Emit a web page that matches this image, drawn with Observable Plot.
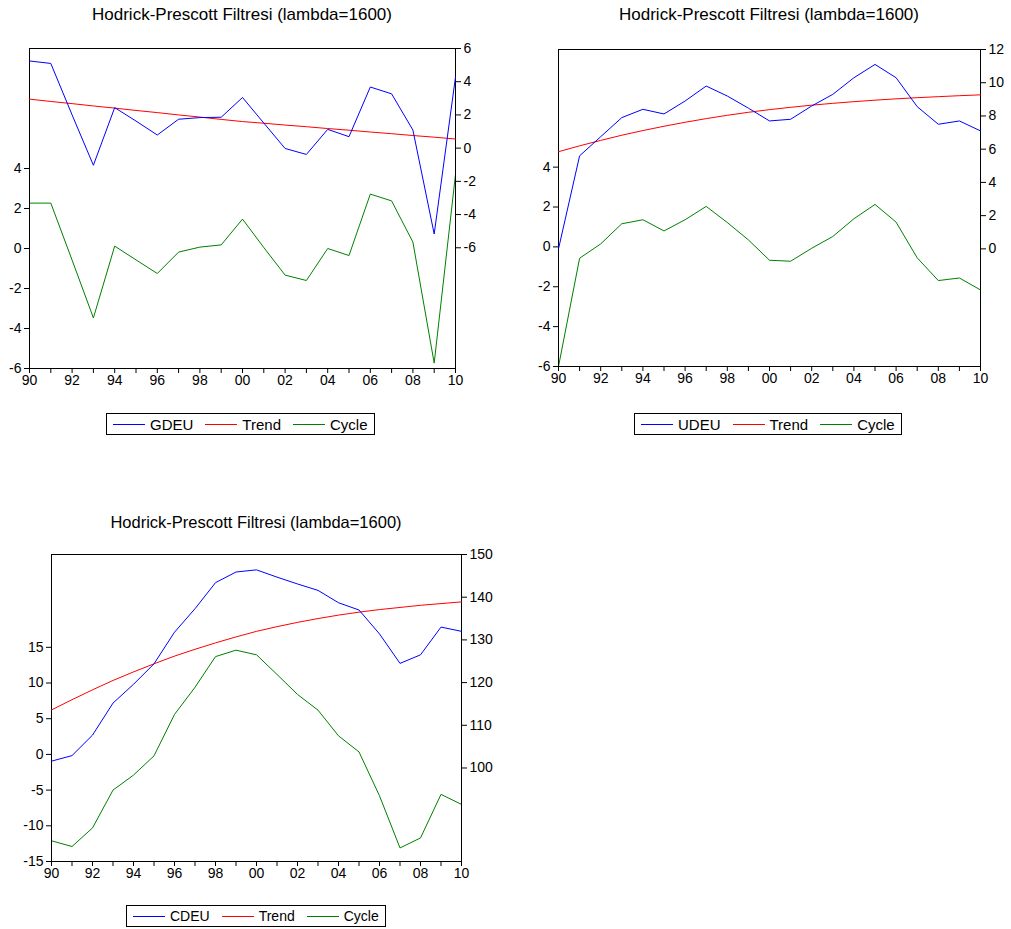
<!DOCTYPE html>
<html><head><meta charset="utf-8">
<script src="https://cdn.jsdelivr.net/npm/d3@7"></script>
<script src="https://cdn.jsdelivr.net/npm/@observablehq/plot@0.6"></script>
<style>
body{margin:0;background:#fff;font-family:"Liberation Sans",Arial,sans-serif;}
#root{position:relative;width:1011px;height:929px;overflow:hidden;}
.layer{position:absolute;}
.layer svg{background:transparent !important;}
.title{position:absolute;color:#000;white-space:nowrap;transform:translateX(-50%);line-height:20px;}
.legend{position:absolute;display:flex;align-items:center;border:1px solid #000;height:22px;padding:0 6px;box-sizing:border-box;color:#000;background:#fff;}
.legend svg.sw{margin-right:5px;display:block;}
.legend .lab{margin-right:12px;}
.legend .lab:last-child{margin-right:0;}
</style></head><body><div id="root"></div>
<script>
const years = [1990,1991,1992,1993,1994,1995,1996,1997,1998,1999,2000,2001,2002,2003,2004,2005,2006,2007,2008,2009,2010];
const seriesNames = ["Trend", "Cycle"];
const titleText = "Hodrick-Prescott Filtresi (lambda=1600)";

// Panel 1: GDEU
const gdeu      = [5.25,5.1,2.0,-1.03,2.44,1.63,0.79,1.74,1.84,1.86,3.05,1.51,-0.02,-0.38,1.13,0.69,3.68,3.27,1.09,-5.17,4.28];
const gdeuTrend = [2.95,2.81,2.68,2.54,2.41,2.27,2.14,2.00,1.87,1.73,1.60,1.50,1.39,1.29,1.18,1.08,0.97,0.87,0.76,0.66,0.55];
const gdeuCycle = [2.27,2.27,-0.58,-3.47,0.12,-0.57,-1.25,-0.18,0.07,0.18,1.47,0.05,-1.33,-1.6,0.0,-0.35,2.72,2.38,0.32,-5.73,3.7];
const gdeuLeftTicks  = [-6,-4,-2,0,2,4];
const gdeuRightTicks = [-6,-4,-2,0,2,4,6];

// Panel 2: UDEU
const udeu      = [0.0,5.6,6.75,7.9,8.4,8.12,8.9,9.8,9.2,8.47,7.7,7.8,8.6,9.3,10.3,11.1,10.3,8.56,7.5,7.7,7.1];
const udeuTrend = [5.85,6.2,6.53,6.84,7.12,7.38,7.62,7.84,8.04,8.22,8.38,8.52,8.65,8.76,8.86,8.95,9.03,9.10,9.16,9.22,9.27];
const udeuCycle = [-6.0,-0.57,0.15,1.16,1.36,0.8,1.36,2.03,1.22,0.35,-0.67,-0.72,-0.07,0.52,1.41,2.13,1.24,-0.55,-1.69,-1.56,-2.16];
const udeuLeftTicks  = [-6,-4,-2,0,2,4];
const udeuRightTicks = [0,2,4,6,8,10,12];

// Panel 3: CDEU
const cdeu      = [101.6,102.9,107.7,115.2,119.6,124.4,131.8,137.3,143.4,145.9,146.4,144.7,143.1,141.6,138.7,137.0,131.4,124.5,126.5,133.0,132.0];
const cdeuTrend = [113.6,116.0,118.3,120.5,122.5,124.4,126.2,127.8,129.3,130.7,132.0,133.1,134.1,135.0,135.8,136.5,137.1,137.6,138.1,138.5,138.9];
const cdeuCycle = [-12.1,-12.9,-10.3,-5.0,-2.9,-0.2,5.6,9.4,13.7,14.6,13.95,11.2,8.4,6.2,2.6,0.35,-5.8,-13.1,-11.7,-5.6,-7.0];
const cdeuLeftTicks  = [-15,-10,-5,0,5,10,15];
const cdeuRightTicks = [100,110,120,130,140,150];

const BLUE = "#0000ff", RED = "#ff0000", GREEN = "#008000";
const FONT = "'Liberation Sans', Arial, sans-serif";
const SVGNS = "http://www.w3.org/2000/svg";
const root = document.getElementById("root");

const panels = [
  {name:"GDEU", series:gdeu, trend:gdeuTrend, cycle:gdeuCycle, leftTicks:gdeuLeftTicks, rightTicks:gdeuRightTicks,
   left:0, top:30, width:490, height:372, mL:29, mR:35, mT:18, mB:34, yL:[-6,10], yR:[-13.27,6],
   titleX:242, titleY:5, titleSize:17, legX:106, legY:413, legSize:15},
  {name:"UDEU", series:udeu, trend:udeuTrend, cycle:udeuCycle, leftTicks:udeuLeftTicks, rightTicks:udeuRightTicks,
   left:520, top:30, width:491, height:372, mL:38, mR:31, mT:19, mB:36, yL:[-6,9.9], yR:[-7.08,12],
   titleX:769, titleY:5, titleSize:17, legX:634, legY:413, legSize:15},
  {name:"CDEU", series:cdeu, trend:cdeuTrend, cycle:cdeuCycle, leftTicks:cdeuLeftTicks, rightTicks:cdeuRightTicks,
   left:0, top:535, width:500, height:360, mL:51, mR:39, mT:19, mB:34, yL:[-15,28], yR:[78.1,150],
   titleX:256, titleY:512, titleSize:16.5, legX:126, legY:905, legSize:14}
];

const fmtYear = d => d % 2 === 0 ? String(d).slice(2) : "";

for (const p of panels) {
  const rows = years.map((y, i) => ({year: y, s: p.series[i], t: p.trend[i], c: p.cycle[i]}));
  const common = {
    width: p.width, height: p.height,
    marginLeft: p.mL, marginRight: p.mR, marginTop: p.mT, marginBottom: p.mB,
    style: {fontSize: "14px", fontFamily: FONT, background: "transparent", color: "#000", overflow: "visible"}
  };
  const base = Plot.plot({
    ...common,
    x: {domain: [1990, 2010], label: null},
    y: {domain: p.yL, label: null},
    marks: [
      Plot.axisX({ticks: years, tickFormat: fmtYear, tickSize: 5, tickPadding: 2, label: null}),
      Plot.axisY({anchor: "left", ticks: p.leftTicks, tickFormat: d => String(d), tickSize: 5, tickPadding: 3, label: null}),
      Plot.line(rows, {x: "year", y: "c", stroke: GREEN, strokeWidth: 1}),
      Plot.frame({stroke: "#000", strokeWidth: 1})
    ]
  });
  const over = Plot.plot({
    ...common,
    x: {domain: [1990, 2010], axis: null},
    y: {domain: p.yR, label: null},
    marks: [
      Plot.axisY({anchor: "right", ticks: p.rightTicks, tickFormat: d => String(d), tickSize: 5, tickPadding: 3, label: null}),
      Plot.line(rows, {x: "year", y: "t", stroke: RED, strokeWidth: 1}),
      Plot.line(rows, {x: "year", y: "s", stroke: BLUE, strokeWidth: 1})
    ]
  });
  for (const svg of [base, over]) {
    const d = document.createElement("div");
    d.className = "layer";
    d.style.left = p.left + "px";
    d.style.top = p.top + "px";
    d.appendChild(svg);
    root.appendChild(d);
  }
  const t = document.createElement("div");
  t.className = "title";
  t.style.left = p.titleX + "px";
  t.style.top = p.titleY + "px";
  t.style.fontSize = p.titleSize + "px";
  t.textContent = titleText;
  root.appendChild(t);

  const leg = document.createElement("div");
  leg.className = "legend";
  leg.style.left = p.legX + "px";
  leg.style.top = p.legY + "px";
  leg.style.fontSize = p.legSize + "px";
  const items = [[p.name, BLUE], [seriesNames[0], RED], [seriesNames[1], GREEN]];
  for (const [lab, col] of items) {
    const sw = document.createElementNS(SVGNS, "svg");
    sw.setAttribute("class", "sw");
    sw.setAttribute("width", "32");
    sw.setAttribute("height", "3");
    const ln = document.createElementNS(SVGNS, "line");
    ln.setAttribute("x1", "0"); ln.setAttribute("x2", "32");
    ln.setAttribute("y1", "1.5"); ln.setAttribute("y2", "1.5");
    ln.setAttribute("stroke", col); ln.setAttribute("stroke-width", "1");
    sw.appendChild(ln);
    const tx = document.createElement("span");
    tx.className = "lab"; tx.textContent = lab;
    leg.appendChild(sw); leg.appendChild(tx);
  }
  root.appendChild(leg);
}
</script>
</body></html>
